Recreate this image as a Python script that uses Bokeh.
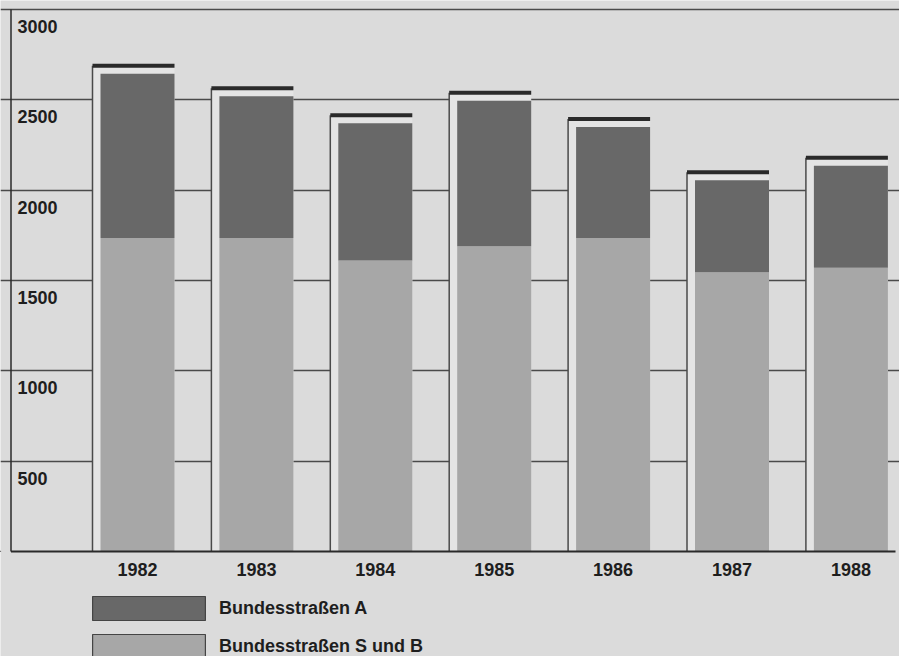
from bokeh.plotting import figure
from bokeh.models import Range1d, FixedTicker, Legend, LegendItem, ColumnDataSource, Grid
from bokeh.embed import file_html
from bokeh.resources import INLINE
from bokeh.core.properties import value

# ---- data ----
years = [1982, 1983, 1984, 1985, 1986, 1987, 1988]
year_labels = ["1982", "1983", "1984", "1985", "1986", "1987", "1988"]
bundesstrassen_s_und_b = [1735, 1735, 1610, 1690, 1735, 1545, 1570]
bundesstrassen_a = [910, 785, 760, 805, 615, 510, 565]
y_ticks = [500, 1000, 1500, 2000, 2500, 3000]
y_tick_labels = ["500", "1000", "1500", "2000", "2500", "3000"]
series_names = ["Bundesstraßen A", "Bundesstraßen S und B"]

# ---- styles ----
W, H = 899, 656
BG = "#dbdbdb"
PANEL = "#e4e4e4"
DARK = "#686868"
LIGHT = "#a7a7a7"
LINE = "#4a4a4a"
EDGE = "#2a2a2a"
TXT = "#1e1e1e"
FONT_NAME = "Liberation Sans"
FONT = value(FONT_NAME)

x_start = 1982 - 137 / 118.9
x_end = x_start + W / 118.9
y_start, y_end = -105 / 0.18067, 551 / 0.18067
UX = (x_end - x_start) / W   # data units per pixel (x)
UY = (y_end - y_start) / H   # data units per pixel (y)

BAR_W = 74 * UX
OFF_X = 8 * UX

totals = [a + b for a, b in zip(bundesstrassen_a, bundesstrassen_s_und_b)]
panel_left = [y - BAR_W / 2 - OFF_X for y in years]
panel_right = [y + BAR_W / 2 for y in years]
panel_top = [t + 8 * UY for t in totals]

p = figure(width=W, height=H, output_backend="svg", toolbar_location=None,
           x_range=Range1d(x_start, x_end), y_range=Range1d(y_start, y_end),
           x_axis_type=None, y_axis_type=None, min_border=0)
p.outline_line_color = None
p.background_fill_color = BG
p.border_fill_color = BG

p.add_layout(Grid(dimension=1, ticker=FixedTicker(ticks=y_ticks),
                  grid_line_color=LINE, grid_line_width=1.3))

# left axis line
ax_x = x_start + 10.5 * UX
p.segment(x0=[ax_x], y0=[0], x1=[ax_x], y1=[y_ticks[-1]], line_color=EDGE, line_width=1.5)

# panels behind bars
psrc = ColumnDataSource(dict(left=panel_left, right=panel_right, top=panel_top,
                             bottom=[0] * len(years)))
p.quad(left="left", right="right", top="top", bottom="bottom", source=psrc,
       fill_color=PANEL, line_color=None)
p.segment(x0="left", y0="bottom", x1="left", y1="top", source=psrc,
          line_color=LINE, line_width=1.5)
p.segment(x0="left", y0="top", x1="right", y1="top", source=psrc,
          line_color=EDGE, line_width=4, line_cap="butt")

# stacked bars
src = ColumnDataSource(dict(year=years, sb=bundesstrassen_s_und_b, a=bundesstrassen_a))
p.vbar_stack(["sb", "a"], x="year", width=BAR_W, source=src,
             fill_color=[LIGHT, DARK], line_color=None)

# baseline
p.segment(x0=[ax_x], y0=[0], x1=[x_start + 895 * UX], y1=[0], line_color=EDGE, line_width=2)

# tick labels inside plot
p.text(x=[x_start] * len(y_ticks), y=y_ticks, text=y_tick_labels,
       x_offset=17, y_offset=17, text_align="left", text_baseline="middle",
       text_font=FONT, text_font_style="bold", text_font_size="18px", text_color=TXT)

# year labels
p.text(x=years, y=[0] * len(years), text=year_labels, y_offset=18,
       text_align="center", text_baseline="middle",
       text_font=FONT, text_font_style="bold", text_font_size="18px", text_color=TXT)

# legend (dummy renderers carry the swatch style)
dA = p.vbar(x=[x_start - 5], top=[1], width=0.1, fill_color=DARK, line_color="#444444", line_width=1.2)
dB = p.vbar(x=[x_start - 5], top=[1], width=0.1, fill_color=LIGHT, line_color="#444444", line_width=1.2)
legend = Legend(items=[LegendItem(label=series_names[0], renderers=[dA]),
                       LegendItem(label=series_names[1], renderers=[dB])],
                location=(78, -5), orientation="vertical",
                glyph_width=141, glyph_height=30, spacing=8, label_standoff=0,
                padding=0, margin=0, background_fill_alpha=0, border_line_alpha=0,
                label_text_font=FONT_NAME, label_text_font_style="bold",
                label_text_font_size="18px", label_text_color=TXT)
p.add_layout(legend)

open("out.html", "w").write(file_html(p, INLINE))
